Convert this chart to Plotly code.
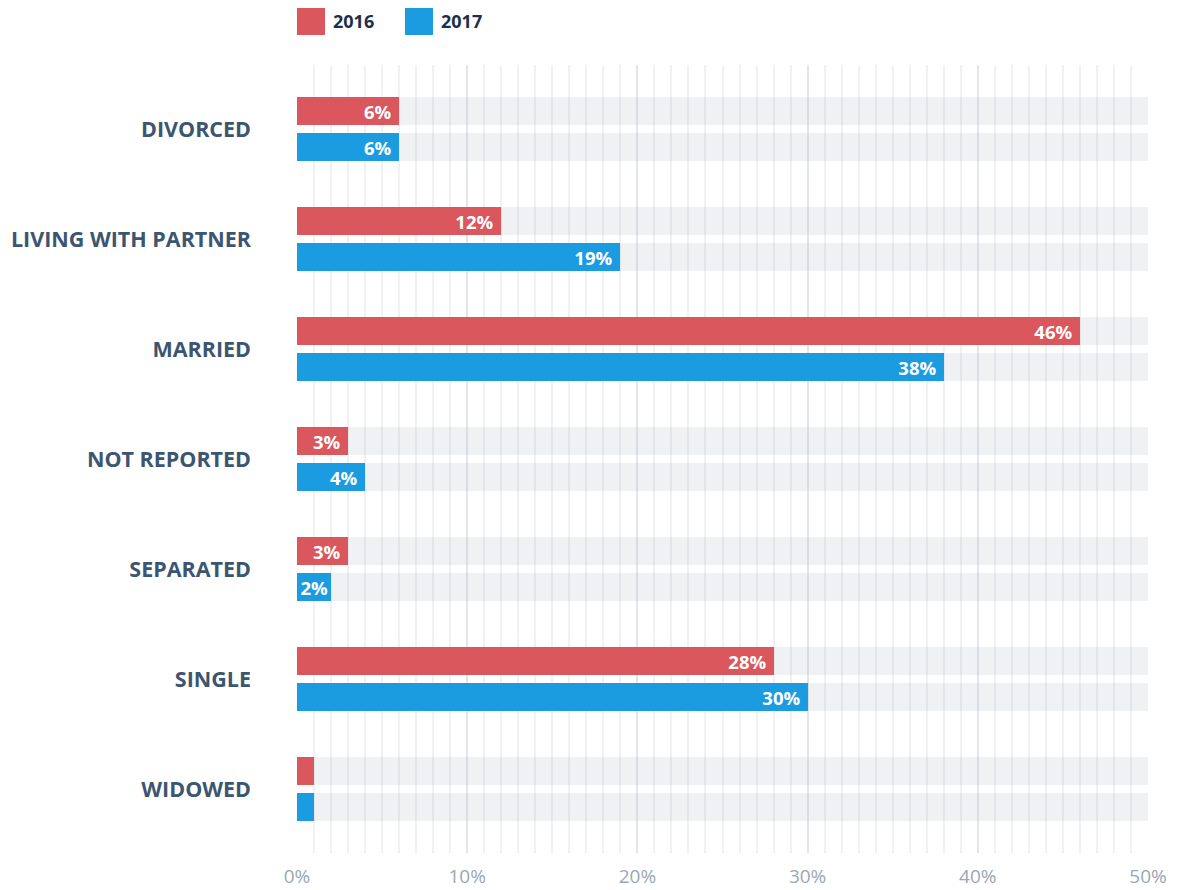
import plotly.graph_objects as go

categories = ["DIVORCED", "LIVING WITH PARTNER", "MARRIED", "NOT REPORTED", "SEPARATED", "SINGLE", "WIDOWED"]
values_2016 = [6, 12, 46, 3, 3, 28, 1]
values_2017 = [6, 19, 38, 4, 2, 30, 1]
series_names = ["2016", "2017"]
track_max = 50
tick_vals = [0, 10, 20, 30, 40, 50]
tick_text = ["0%", "10%", "20%", "30%", "40%", "50%"]

RED = "#d9575d"
BLUE = "#1b9be0"
W = 0.2545
OFFSETS = [-0.291, 0.036]

def labels(vals):
    out = []
    for v in vals:
        if v < 2:
            out.append("")
        elif v < 3:
            out.append(f"{v}%")
        else:
            out.append(f"{v}%\u00a0")
    return out

fig = go.Figure()
for off in OFFSETS:
    fig.add_trace(go.Bar(
        y=categories, x=[track_max] * len(categories), orientation="h",
        marker=dict(color="rgba(176,184,196,0.2)", line=dict(width=0)),
        width=W, offset=off, showlegend=False, hoverinfo="skip"))

for name, vals, color, off in zip(series_names, [values_2016, values_2017], [RED, BLUE], OFFSETS):
    fig.add_trace(go.Bar(
        y=categories, x=vals, orientation="h", name=name,
        marker=dict(color=color, line=dict(width=0)),
        width=W, offset=off,
        text=labels(vals), textposition="inside", insidetextanchor="end",
        textangle=0, constraintext="none",
        textfont=dict(family="Open Sans", size=18.5, color="white", weight="bold"),
        showlegend=False))

PL, PW, PT, PH = 289, 851, 57, 788
leg_x = [297, 405]
for name, color, lx in zip(series_names, [RED, BLUE], leg_x):
    fig.add_shape(type="rect", xref="paper", yref="paper",
                  x0=(lx - 297) / PW, x1=(lx + 28 - 297) / PW,
                  y0=(853 - 35) / PH, y1=(853 - 7) / PH,
                  fillcolor=color, line=dict(width=0))
    fig.add_annotation(xref="paper", yref="paper", x=(lx + 34 - 297) / PW,
                       y=(853 - 21) / PH, text=f"<b>{name}</b>", showarrow=False,
                       xanchor="left", yanchor="middle",
                       font=dict(family="Open Sans", size=18, color="#1c2f4b"))

fig.update_layout(
    width=1170, height=882,
    margin=dict(l=PL, r=30, t=PT, b=37, autoexpand=False),
    paper_bgcolor="white", plot_bgcolor="white",
    barmode="overlay", bargap=0,
    font=dict(family="Open Sans"),
    xaxis=dict(range=[0, 50], tickvals=tick_vals, ticktext=tick_text,
               automargin=False,
               showgrid=True, gridcolor="#e2e6eb", gridwidth=2,
               minor=dict(dtick=1, showgrid=True, gridcolor="#eff1f4", gridwidth=2),
               zeroline=False, showline=False,
               ticks="", ticklabelstandoff=10,
               tickfont=dict(family="Open Sans", size=19, color="#9aa7b5")),
    yaxis=dict(categoryorder="array", categoryarray=categories,
               automargin=False,
               range=[6.5818, -0.5818], showgrid=False, zeroline=False,
               showline=False, ticks="", ticklabelstandoff=45,
               tickfont=dict(family="Open Sans", size=21.5, color="#3c5570", weight="bold")),
)

fig.write_html("out.html")
